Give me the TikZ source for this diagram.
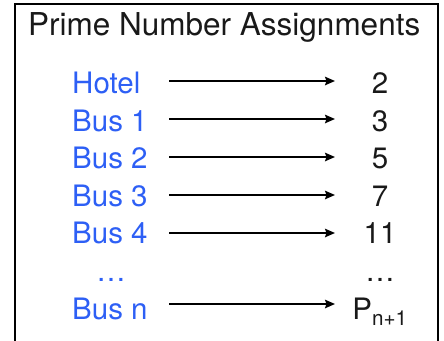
\documentclass[tikz,border=0pt]{standalone}
\usepackage{fontspec}
\setmainfont{TeX Gyre Heros}
\usetikzlibrary{arrows.meta}
\definecolor{busblue}{RGB}{45,95,245}
\definecolor{txtgray}{RGB}{25,25,25}
\begin{document}
\begin{tikzpicture}[x=1pt,y=-1pt,
  title/.style={anchor=base west,inner sep=0pt,font=\fontsize{31.5}{33}\selectfont,text=txtgray},
  lbl/.style={anchor=base west,inner sep=0pt,font=\fontsize{29.5}{32}\selectfont,text=busblue},
  num/.style={anchor=base,inner sep=0pt,font=\fontsize{29.5}{32}\selectfont,text=txtgray},
  arr/.style={line width=1.8pt,-{Stealth[length=10pt,width=8.5pt,inset=1.5pt]}}]
\useasboundingbox (0,0) rectangle (444,340);
\draw[line width=1.5pt] (15,345) -- (15,4) -- (438,4) -- (438,345);
\node[title] (title) at (28,35) {Prime Number Assignments};
\node[lbl] (l0) at (72,93) {Hotel};
\node[lbl] (l1) at (72,131) {Bus 1};
\node[lbl] (l2) at (72,168) {Bus 2};
\node[lbl] (l3) at (72,206) {Bus 3};
\node[lbl] (l4) at (72,243) {Bus 4};
\node[num,text=busblue] (ld) at (111,281) {…};
\node[lbl] (ln) at (72,319) {Bus n};
\node[num] (r0) at (380,93) {2};
\node[num] (r1) at (380,131) {3};
\node[num] (r2) at (380,168) {5};
\node[num] (r3) at (380,206) {7};
\node[num] (r4) at (380,243) {11};
\node[num] (rd) at (380,281) {…};
\node[num] (rn) at (380,319) {P\textsubscript{n+1}};
\foreach \i/\y in {0/81,1/119,2/157,3/195,4/233,n/304}{
  \coordinate (s\i) at (169,\y);
  \coordinate (e\i) at (335,\y);
  \draw[arr] (s\i) -- (e\i);
}
\end{tikzpicture}
\end{document}
